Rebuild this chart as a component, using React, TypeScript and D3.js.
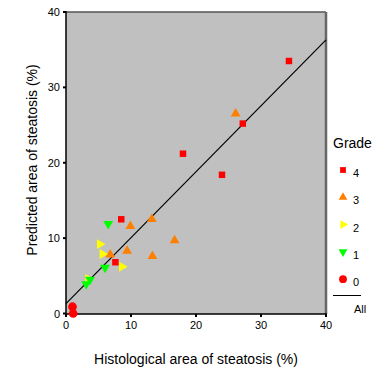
import React, { useEffect, useRef } from "react";
import * as d3 from "d3";

// grade -> [histological %, predicted %]
const grade4 = [[8.5, 12.5], [7.6, 6.8], [34.3, 33.5], [27.2, 25.2], [18.0, 21.2], [24.0, 18.4]];
const grade3 = [[9.9, 11.6], [13.2, 12.5], [16.7, 9.7], [6.8, 7.8], [9.4, 8.3], [13.3, 7.6], [26.1, 26.5]];
const grade2 = [[5.2, 9.2], [5.6, 7.9], [8.6, 6.2], [3.4, 4.6]];
const grade1 = [[6.5, 11.9], [6.0, 6.1], [3.1, 3.9], [3.7, 4.5]];
const grade0 = [[1.0, 0.9], [1.1, 0.0]];

const fitLine = [[0, 1.3], [40, 36.3]];
const ticks = [0, 10, 20, 30, 40];
const gradeLabels = ["4", "3", "2", "1", "0"];

export default function App() {
  const ref = useRef<SVGSVGElement>(null);

  useEffect(() => {
    const svg = d3.select(ref.current);
    svg.selectAll("*").remove();

    const left = 66, right = 326, top = 12, bottom = 314;
    const x = d3.scaleLinear().domain([0, 40]).range([left, right]);
    const y = d3.scaleLinear().domain([0, 40]).range([313.5, top]);
    const font = "Liberation Sans, Arial, sans-serif";

    svg.append("rect")
      .attr("x", left).attr("y", top)
      .attr("width", right - left).attr("height", bottom - top)
      .attr("fill", "#c0c0c0");

    // frame top / right
    svg.append("line").attr("x1", left).attr("x2", right).attr("y1", top).attr("y2", top)
      .attr("stroke", "#555").attr("stroke-width", 1.5);
    svg.append("line").attr("x1", right).attr("x2", right).attr("y1", top).attr("y2", bottom)
      .attr("stroke", "#666").attr("stroke-width", 2.5);

    // axes
    svg.append("line").attr("x1", left).attr("x2", left).attr("y1", top - 1).attr("y2", bottom + 1)
      .attr("stroke", "#000").attr("stroke-width", 1.5);
    svg.append("line").attr("x1", left - 1).attr("x2", right + 1).attr("y1", bottom).attr("y2", bottom)
      .attr("stroke", "#000").attr("stroke-width", 1.5);

    ticks.forEach(t => {
      svg.append("rect").attr("x", left - 3).attr("y", y(t) - 1).attr("width", 3).attr("height", 2).attr("fill", "#000");
      svg.append("text").attr("x", left - 6).attr("y", y(t) + 4)
        .attr("text-anchor", "end").attr("font-family", font).attr("font-size", 11).text(t);
      svg.append("rect").attr("x", x(t) - 1).attr("y", bottom).attr("width", 2).attr("height", 3).attr("fill", "#000");
      svg.append("text").attr("x", x(t)).attr("y", bottom + 15)
        .attr("text-anchor", "middle").attr("font-family", font).attr("font-size", 11).text(t);
    });

    // fit line
    svg.append("path")
      .datum(fitLine)
      .attr("d", d3.line().x(d => x(d[0])).y(d => y(d[1])))
      .attr("stroke", "#000").attr("stroke-width", 1.2).attr("fill", "none");

    const series = [
      { data: grade4, color: "#ff0000", sym: d3.symbolSquare, size: 42, rot: 0 },
      { data: grade3, color: "#ff8000", sym: d3.symbolTriangle, size: 42, rot: 0 },
      { data: grade2, color: "#ffff00", sym: d3.symbolTriangle, size: 42, rot: 90 },
      { data: grade1, color: "#00ff00", sym: d3.symbolTriangle, size: 42, rot: 180 },
      { data: grade0, color: "#ff0000", sym: d3.symbolCircle, size: 60, rot: 0 },
    ];

    series.forEach(s => {
      const path = d3.symbol().type(s.sym).size(s.size)();
      svg.append("g").selectAll("path")
        .data(s.data)
        .enter().append("path")
        .attr("d", path)
        .attr("fill", s.color)
        .attr("transform", d => `translate(${x(d[0])},${y(d[1])}) rotate(${s.rot})`);
    });

    // legend
    svg.append("text").attr("x", 333).attr("y", 148)
      .attr("font-family", font).attr("font-size", 14).text("Grade");
    series.forEach((s, i) => {
      const ly = 170 + i * 27.3;
      svg.append("path")
        .attr("d", d3.symbol().type(s.sym).size(s.size * 0.8)())
        .attr("fill", s.color)
        .attr("transform", `translate(343,${ly}) rotate(${s.rot})`);
      svg.append("text").attr("x", 353).attr("y", ly + 7)
        .attr("font-family", font).attr("font-size", 11).text(gradeLabels[i]);
    });
    svg.append("line").attr("x1", 333).attr("x2", 361).attr("y1", 295.5).attr("y2", 295.5)
      .attr("stroke", "#000").attr("stroke-width", 1);
    svg.append("text").attr("x", 354).attr("y", 313)
      .attr("font-family", font).attr("font-size", 11).text("All");

    // axis titles
    svg.append("text").attr("x", 196).attr("y", 364)
      .attr("text-anchor", "middle").attr("font-family", font).attr("font-size", 14)
      .text("Histological area of steatosis (%)");
    svg.append("text")
      .attr("transform", `translate(37,160) rotate(-90)`)
      .attr("text-anchor", "middle").attr("font-family", font).attr("font-size", 14)
      .text("Predicted area of steatosis (%)");
  }, []);

  return (
    <svg ref={ref} width={383} height={367}
      style={{ position: "absolute", left: 0, top: 0, background: "#fff" }} />
  );
}
